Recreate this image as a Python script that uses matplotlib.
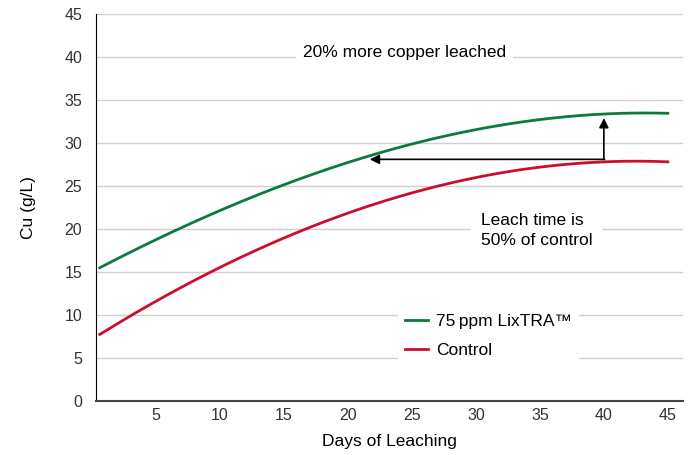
import matplotlib
matplotlib.use('Agg')
import matplotlib.pyplot as plt
import numpy as np

plt.rcParams['font.family'] = ['Liberation Sans', 'DejaVu Sans']

days = [0.6, 5, 10, 15, 20, 25, 30, 35, 40, 45]
lixtra = [15.5, 18.8, 22.1, 25.1, 27.8, 29.9, 31.6, 32.7, 33.3, 33.5]
control = [7.8, 11.6, 15.4, 18.9, 22.0, 24.3, 26.0, 27.1, 27.7, 27.9]

green = '#0b7a3e'
red = '#c8102e'

fig = plt.figure(figsize=(6.88, 4.55), dpi=100)
ax = fig.add_axes([0.1395, 0.1187, 0.8535, 0.8505])

# smooth curves through the read points
xs = np.linspace(days[0], days[-1], 200)
g = np.polyval(np.polyfit(days, lixtra, 3), xs)
r = np.polyval(np.polyfit(days, control, 3), xs)
ax.plot(xs, g, color=green, lw=2, label='75\u2009ppm LixTRA\u2122')
ax.plot(xs, r, color=red, lw=2, label='Control')

ax.set_xlim(0.3, 46.2)
ax.set_ylim(0, 45)
ax.set_xticks(range(5, 46, 5))
ax.set_yticks(range(0, 46, 5))
ax.yaxis.grid(True, color='#d0d0d0', lw=1)
ax.set_axisbelow(True)
ax.tick_params(length=0, labelsize=11.5, colors='#333333')
ax.tick_params(axis='x', pad=5)
ax.tick_params(axis='y', pad=10)
for s in ['top', 'right']:
    ax.spines[s].set_visible(False)
ax.spines['left'].set_color('black')
ax.spines['bottom'].set_color('#444444')
ax.spines['bottom'].set_linewidth(1.5)

ax.set_xlabel('Days of Leaching', fontsize=12.5, labelpad=8)
ax.set_ylabel('Cu (g/L)', fontsize=12.5, labelpad=20)

# arrows
ax.annotate('', xy=(40, 32.9), xytext=(40, 28.1),
            arrowprops=dict(arrowstyle='-|>', color='black', lw=1.2, mutation_scale=14, shrinkA=0, shrinkB=0))
ax.annotate('', xy=(21.7, 28.1), xytext=(40.06, 28.1),
            arrowprops=dict(arrowstyle='-|>', color='black', lw=1.2, mutation_scale=14, shrinkA=0, shrinkB=0))

ax.text(24.4, 40.5, '20% more copper leached', ha='center', va='center', fontsize=12.5,
        bbox=dict(facecolor='white', edgecolor='none', pad=5))
ax.text(30.4, 19.8, 'Leach time is\n50% of control', ha='left', va='center', fontsize=12.5,
        linespacing=1.45, bbox=dict(facecolor='white', edgecolor='none', pad=7))

leg = ax.legend(loc='center left', bbox_to_anchor=(0.5, 0.168), frameon=True, fontsize=12.5,
                handlelength=1.3, handletextpad=0.5, labelspacing=0.75)
leg.get_frame().set_edgecolor('none')
leg.get_frame().set_facecolor('white')
leg.get_frame().set_alpha(1)

fig.savefig('out.png', dpi=100)
